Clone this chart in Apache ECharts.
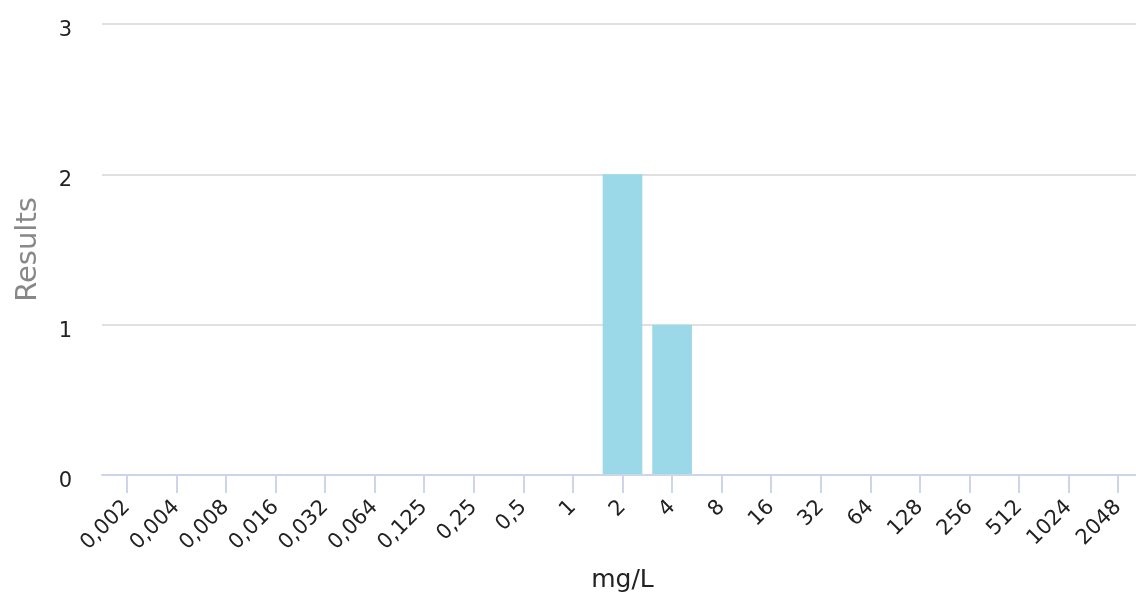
<!DOCTYPE html>
<html>
<head>
<meta charset="utf-8">
<script src="https://cdn.jsdelivr.net/npm/echarts@6/dist/echarts.min.js"></script>
<style>
html,body{margin:0;padding:0;background:#fff;overflow:hidden;}
#wrap{width:1136px;height:605px;overflow:hidden;}
#chart{width:1143px;height:605px;}
</style>
</head>
<body>
<div id="wrap"><div id="chart"></div></div>
<script>
var categories = ['0,002','0,004','0,008','0,016','0,032','0,064','0,125','0,25','0,5','1','2','4','8','16','32','64','128','256','512','1024','2048'];
var results = [0,0,0,0,0,0,0,0,0,0,2,1,0,0,0,0,0,0,0,0,0];
var yTicks = [0,1,2,3];

var chart = echarts.init(document.getElementById('chart'), null, {renderer:'canvas'});
var FONT = 'DejaVu Sans';
chart.setOption({
  animation:false,
  grid:{left:102,right:0,top:24,height:451,containLabel:false},
  xAxis:{
    type:'category',
    data:categories,
    name:'mg/L',
    nameLocation:'middle',
    nameGap:93,
    nameTextStyle:{fontFamily:FONT,fontSize:25,color:'#222'},
    axisLine:{show:true,lineStyle:{color:'#ccd6eb',width:2}},
    axisTick:{show:true,alignWithLabel:true,length:18,lineStyle:{color:'#ccd6eb',width:2}},
    axisLabel:{show:true,rotate:45,margin:29,fontFamily:FONT,fontSize:21,color:'#222',interval:0},
    splitLine:{show:false},
    z:5
  },
  yAxis:{
    type:'value',
    min:yTicks[0],max:yTicks[yTicks.length-1],interval:1,
    name:'Results',
    nameLocation:'middle',
    nameGap:59,
    nameTextStyle:{fontFamily:FONT,fontSize:29,color:'#888'},
    axisLine:{show:false},
    axisTick:{show:false},
    axisLabel:{margin:30,fontFamily:FONT,fontSize:21,color:'#222',verticalAlign:'top',lineHeight:13},
    splitLine:{lineStyle:{color:'#e0e0e0',width:2}}
  },
  series:[{
    type:'bar',
    data:results,
    barCategoryGap:'20%',
    itemStyle:{color:'#9bd9e9'}
  }]
});
</script>
</body>
</html>
